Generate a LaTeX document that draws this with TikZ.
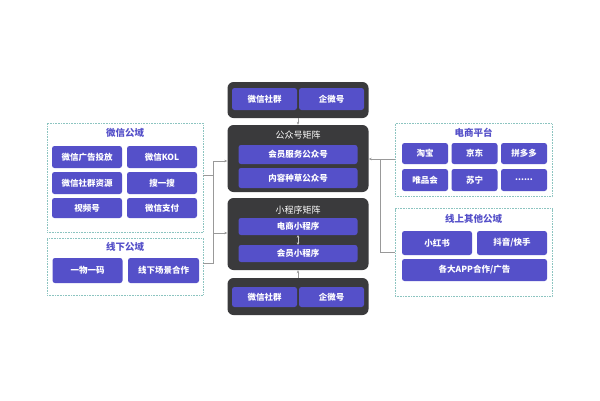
\documentclass[tikz,border=0pt]{standalone}
\usepackage{fontspec}
\setmainfont{Noto Sans CJK SC}
\usetikzlibrary{arrows.meta}

\definecolor{cellblue}{HTML}{5550C9}
\definecolor{darkbox}{HTML}{3A3A3C}
\definecolor{dotline}{HTML}{8CC4C0}

\tikzset{
  cell/.style={fill=cellblue, rounded corners=2.5pt, text=white, inner sep=0pt,
    font=\fontsize{8.5}{10}\selectfont\bfseries},
  matrixbox/.style={fill=darkbox, rounded corners=6pt, inner sep=0pt},
  areabox/.style={draw=dotline, densely dotted, line width=0.6pt, inner sep=0pt},
  areatitle/.style={text=cellblue, font=\fontsize{9.5}{11}\selectfont\bfseries},
  matrixtitle/.style={text=white, font=\fontsize{9}{11}\selectfont},
  link/.style={draw=gray!80, line width=0.5pt, -{Stealth[length=3pt, width=2.5pt]}}
}

\begin{document}
\begin{tikzpicture}[x=1pt, y=-1pt]
    \useasboundingbox[fill=white] (0, 0) rectangle (600, 400);

    % centre column
    \node[matrixbox, minimum width=141, minimum height=36] (topgrp) at (298, 100) {};
    \node[cell, minimum width=65, minimum height=22] (topsq) at (264.5, 99) {微信社群};
    \node[cell, minimum width=65, minimum height=22] (topqw) at (331.5, 99) {企微号};

    \node[matrixbox, minimum width=141, minimum height=67] (gzh) at (298, 158.5) {};
    \node[matrixtitle] (gzhtitle) at (298, 135) {公众号矩阵};
    \node[cell, minimum width=119, minimum height=19] (gzhvip) at (298, 154.5) {会员服务公众号};
    \node[cell, minimum width=119, minimum height=20] (gzhnr) at (298, 178) {内容种草公众号};

    \node[matrixbox, minimum width=141, minimum height=72] (xcx) at (298, 234) {};
    \node[matrixtitle] (xcxtitle) at (298, 210) {小程序矩阵};
    \node[cell, minimum width=119, minimum height=17] (xcxds) at (298, 226.5) {电商小程序};
    \node[cell, minimum width=119, minimum height=17] (xcxvip) at (298, 253.5) {会员小程序};

    \node[matrixbox, minimum width=141, minimum height=37] (botgrp) at (298, 296.5) {};
    \node[cell, minimum width=65, minimum height=20] (botsq) at (264.5, 297) {微信社群};
    \node[cell, minimum width=65, minimum height=20] (botqw) at (331.5, 297) {企微号};

    % left
    \node[areabox, minimum width=156, minimum height=109] (wxgy) at (125, 177.5) {};
    \node[areatitle] (wxgytitle) at (125, 133) {微信公域};
    \node[cell, minimum width=70, minimum height=22] (wxgg) at (87, 157) {微信广告投放};
    \node[cell, minimum width=70, minimum height=22] (wxkol) at (162, 157) {微信KOL};
    \node[cell, minimum width=70, minimum height=22] (wxsq) at (87, 183) {微信社群资源};
    \node[cell, minimum width=70, minimum height=22] (wxsy) at (162, 183) {搜一搜};
    \node[cell, minimum width=70, minimum height=20] (wxsp) at (87, 208) {视频号};
    \node[cell, minimum width=70, minimum height=20] (wxzf) at (162, 208) {微信支付};

    \node[areabox, minimum width=156, minimum height=57] (xxgy) at (125, 266.5) {};
    \node[areatitle] (xxgytitle) at (125, 247) {线下公域};
    \node[cell, minimum width=70, minimum height=25] (xxym) at (87.5, 270.5) {一物一码};
    \node[cell, minimum width=71, minimum height=25] (xxcj) at (163.5, 270.5) {线下场景合作};

    % right
    \node[areabox, minimum width=157, minimum height=73] (dspt) at (473.5, 160) {};
    \node[areatitle] (dspttitle) at (473.5, 133) {电商平台};
    \node[cell, minimum width=46, minimum height=21] (tb) at (425, 153.5) {淘宝};
    \node[cell, minimum width=46, minimum height=21] (jd) at (474.5, 153.5) {京东};
    \node[cell, minimum width=46, minimum height=21] (pdd) at (524, 153.5) {拼多多};
    \node[cell, minimum width=46, minimum height=22] (wph) at (425, 180) {唯品会};
    \node[cell, minimum width=46, minimum height=22] (sn) at (474.5, 180) {苏宁};
    \node[cell, minimum width=46, minimum height=22] (more) at (524, 180) {......};

    \node[areabox, minimum width=157, minimum height=88] (xsqt) at (473.5, 252.5) {};
    \node[areatitle] (xsqttitle) at (473.5, 219) {线上其他公域};
    \node[cell, minimum width=70, minimum height=24] (xhs) at (437, 243) {小红书};
    \node[cell, minimum width=70, minimum height=24] (dyks) at (512, 243) {抖音/快手};
    \node[cell, minimum width=145, minimum height=22] (app) at (474.5, 270) {各大APP合作/广告};

    % links
    \coordinate (ljoin) at (213, 175);
    \coordinate (rjoin) at (380, 159);
    \draw[link] (topgrp) -- (gzh);
    \draw[link] (botgrp) -- (xcx);
    \draw[draw=gray!40, line width=0.5pt, {Stealth[length=2.5pt, width=2.5pt]}-{Stealth[length=2.5pt, width=2.5pt]}] (xcxds) -- (xcxvip);
    \draw[link, -] (wxgy.east |- ljoin) -- (ljoin);
    \draw[link, -] (xxgy.east |- 0, 263) -| (ljoin);
    \draw[link] (ljoin) |- (gzh.west |- 0, 161);
    \draw[link] (ljoin) |- (xcx.west |- 0, 233);
    \draw[link] (dspt.west |- rjoin) -- (gzh.east |- rjoin);
    \draw[link, -] (xsqt.west |- 0, 252) -| (rjoin);
\end{tikzpicture}
\end{document}
